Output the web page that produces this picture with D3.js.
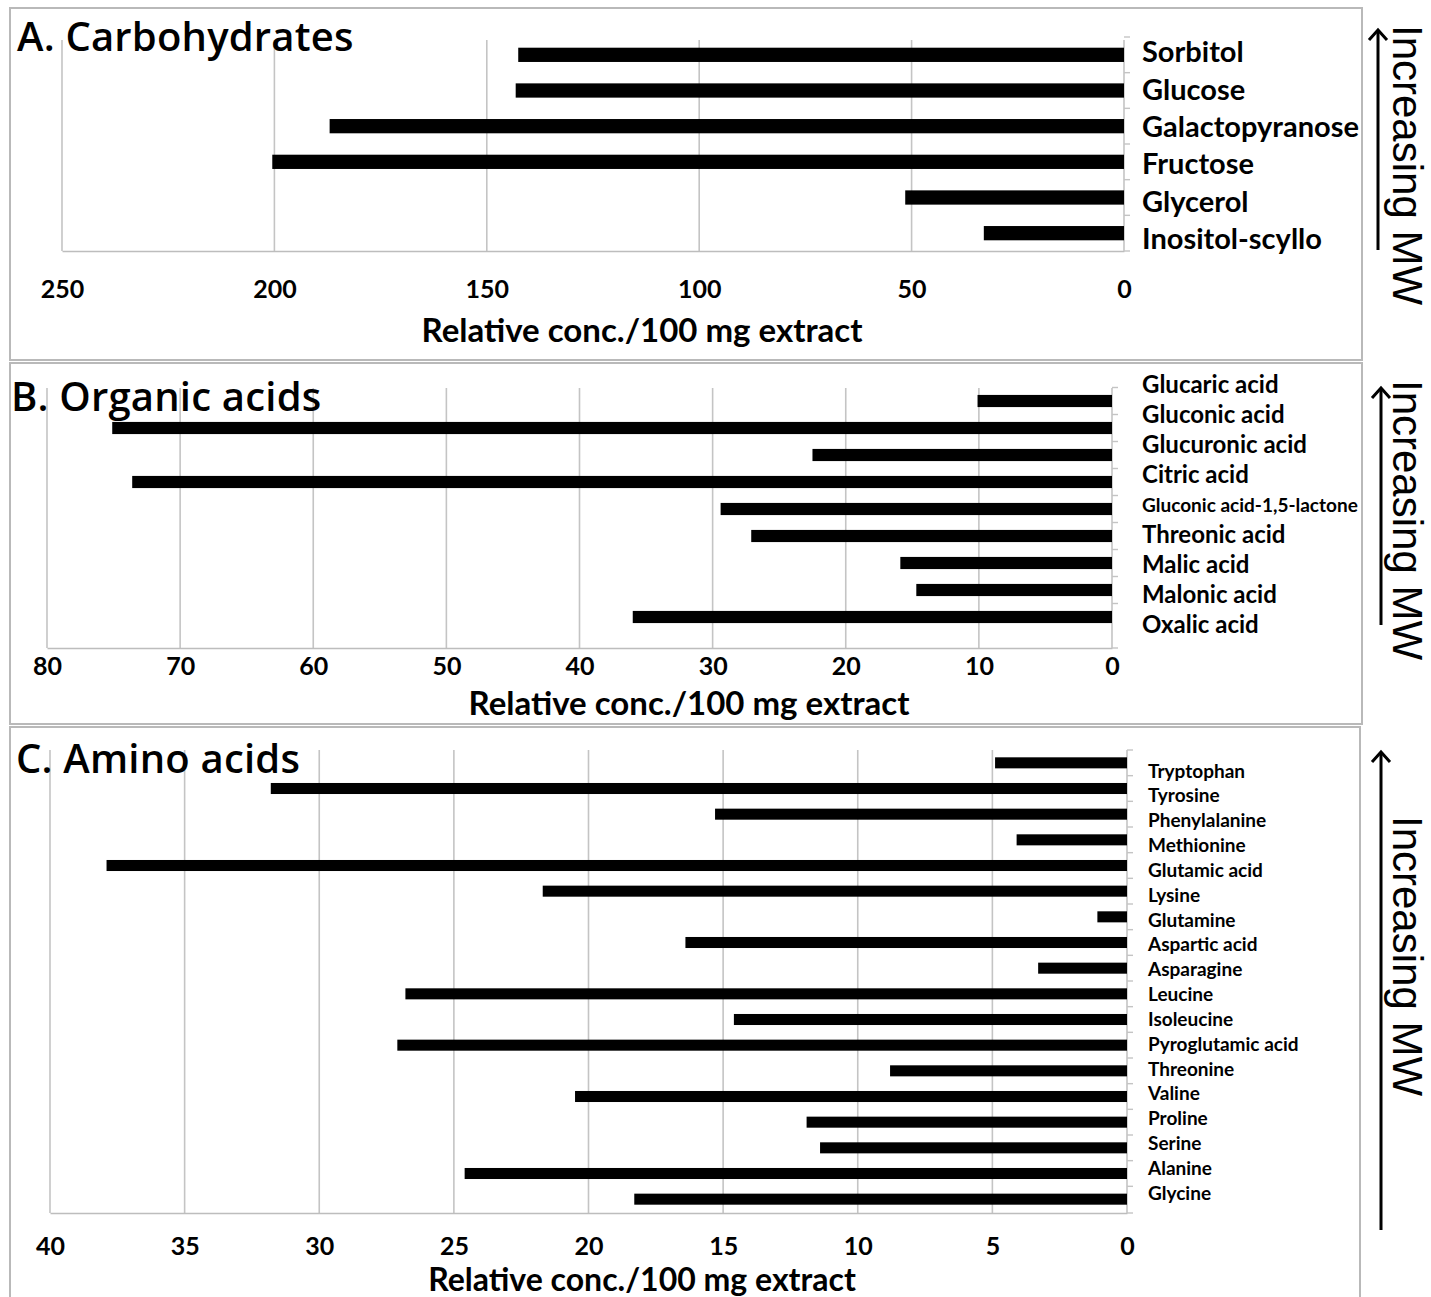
<!DOCTYPE html>
<html><head><meta charset="utf-8">
<script src="https://cdn.jsdelivr.net/npm/d3@7"></script>
<style>
body{margin:0;background:#fff}
svg{display:block}
text{font-family:Lato,"Open Sans",sans-serif;fill:#000}
</style>
</head><body>
<svg id="chart" width="1431" height="1297"></svg>
<script>
// ---------- DATA ----------
const carbCategories = ["Sorbitol","Glucose","Galactopyranose","Fructose","Glycerol","Inositol-scyllo"];
const carbValues = [142.6, 143.2, 187, 200.5, 51.5, 33];
const carbTicks = [250, 200, 150, 100, 50, 0];

const acidCategories = ["Glucaric acid","Gluconic acid","Glucuronic acid","Citric acid","Gluconic acid-1,5-lactone","Threonic acid","Malic acid","Malonic acid","Oxalic acid"];
const acidValues = [10.1, 75.1, 22.5, 73.6, 29.4, 27.1, 15.9, 14.7, 36.0];
const acidTicks = [80, 70, 60, 50, 40, 30, 20, 10, 0];

const aminoCategories = ["Tryptophan","Tyrosine","Phenylalanine","Methionine","Glutamic acid","Lysine","Glutamine","Aspartic acid","Asparagine","Leucine","Isoleucine","Pyroglutamic acid","Threonine","Valine","Proline","Serine","Alanine","Glycine"];
const aminoValues = [4.9, 31.8, 15.3, 4.1, 37.9, 21.7, 1.1, 16.4, 3.3, 26.8, 14.6, 27.1, 8.8, 20.5, 11.9, 11.4, 24.6, 18.3];
const aminoTicks = [40, 35, 30, 25, 20, 15, 10, 5, 0];

const panelTitles = ["A. Carbohydrates", "B. Organic acids", "C. Amino acids"];
const axisTitle = "Relative conc./100 mg extract";
const sideLabel = "Increasing MW";

// ---------- LAYOUT ----------
const layouts = [
  {box:[10,8,1352,352], titleX:17, titleY:51, xr:[62,1124], gridTop:40, axisY:251, band:[37,251], pad:0.6,
   labelR:[52,239], labelX:1142, labelSize:29, smallSize:19, tickY:289, axisTitleX:642, axisTitleY:330, axisTitleSize:33,
   sideY:165, arrowX:1378, arrow:[250,30]},
  {box:[10,363,1352,361], titleX:11, titleY:411, xr:[47,1112], gridTop:388, axisY:648, band:[387.5,630.5], pad:0.55,
   labelR:[385,625], labelX:1142, labelSize:24, smallSize:19, tickY:666, axisTitleX:689, axisTitleY:703, axisTitleSize:33,
   sideY:520, arrowX:1381, arrow:[625,388]},
  {box:[10,727,1350,600], titleX:16, titleY:773, xr:[50,1127], gridTop:750, axisY:1213, band:[750,1212], pad:0.57,
   labelR:[771,1193], labelX:1148, labelSize:19, smallSize:19, tickY:1246, axisTitleX:642, axisTitleY:1280, axisTitleSize:32,
   sideY:956, arrowX:1381, arrow:[1230,752]}
];

const panels = [
  {cats:carbCategories, vals:carbValues, ticks:carbTicks},
  {cats:acidCategories, vals:acidValues, ticks:acidTicks},
  {cats:aminoCategories, vals:aminoValues, ticks:aminoTicks}
];

const svg = d3.select("#chart");
svg.append("defs").append("marker")
  .attr("id","arr").attr("viewBox","0 0 24 24").attr("refX",14).attr("refY",12)
  .attr("markerWidth",24).attr("markerHeight",24).attr("markerUnits","userSpaceOnUse").attr("orient","auto")
  .append("path").attr("d","M4,3 L14,12 L4,21").attr("fill","none").attr("stroke","#000").attr("stroke-width",3);

panels.forEach((p, i) => {
  const L = layouts[i];
  const g = svg.append("g");
  g.append("rect").attr("x",L.box[0]).attr("y",L.box[1]).attr("width",L.box[2]).attr("height",L.box[3])
    .attr("fill","none").attr("stroke","#b9b9b9").attr("stroke-width",2);

  const x = d3.scaleLinear().domain([d3.max(p.ticks), 0]).range(L.xr);
  const y = d3.scaleBand().domain(p.cats).range(L.band).paddingInner(L.pad).paddingOuter(L.pad/2);
  const yl = d3.scalePoint().domain(p.cats).range(L.labelR);

  // grid lines
  g.selectAll(".grid").data(p.ticks.filter(t => t !== 0)).join("line")
    .attr("x1", d => x(d)).attr("x2", d => x(d))
    .attr("y1", L.gridTop).attr("y2", L.axisY)
    .attr("stroke","#c4c4c4").attr("stroke-width",1.6);

  // bottom axis with tick labels
  const ax = g.append("g").attr("transform",`translate(0,${L.axisY})`)
    .call(d3.axisBottom(x).tickValues(p.ticks).tickSize(0).tickPadding(L.tickY - L.axisY).tickFormat(d3.format("d")));
  ax.select(".domain").attr("stroke","#bdbdbd").attr("stroke-width",1.6);
  ax.selectAll("text").attr("font-size",25).attr("font-weight",700).attr("dy","0.35em")
    .attr("font-family","Lato, sans-serif");

  // right category axis line + small ticks
  const x0 = x(0);
  g.append("line").attr("x1",x0).attr("x2",x0).attr("y1",L.gridTop).attr("y2",L.axisY)
    .attr("stroke","#c4c4c4").attr("stroke-width",1.6);
  const edges = p.cats.map(c => y(c) - y.step()*y.paddingInner()/2).concat([L.axisY]);
  g.selectAll(".tk").data(edges).join("line")
    .attr("x1",x0).attr("x2",x0+6).attr("y1",d=>d).attr("y2",d=>d)
    .attr("stroke","#c4c4c4").attr("stroke-width",1.4);

  // bars
  g.selectAll(".bar").data(p.vals).join("rect")
    .attr("x", d => x(d)).attr("width", d => x(0) - x(d))
    .attr("y", (d, k) => y(p.cats[k])).attr("height", y.bandwidth())
    .attr("fill","#000");

  // category labels
  g.selectAll(".lab").data(p.cats).join("text")
    .attr("x", L.labelX).attr("y", d => yl(d)).attr("dy","0.35em")
    .attr("font-size", d => d.length > 20 ? L.smallSize : L.labelSize).attr("font-weight",700)
    .text(d => d);

  // panel title
  g.append("text").attr("x",L.titleX).attr("y",L.titleY).attr("font-size",40).attr("font-weight",600)
    .attr("letter-spacing","0.2px")
    .style("font-family","'Open Sans', sans-serif").text(panelTitles[i]);

  // axis title
  g.append("text").attr("x",L.axisTitleX).attr("y",L.axisTitleY).attr("dy","0.35em").attr("text-anchor","middle")
    .attr("font-size",L.axisTitleSize).attr("font-weight",700).text(axisTitle);

  // arrow
  g.append("line").attr("x1",L.arrowX).attr("x2",L.arrowX).attr("y1",L.arrow[0]).attr("y2",L.arrow[1])
    .attr("stroke","#000").attr("stroke-width",3).attr("marker-end","url(#arr)");

  // side label (rotated, reading top to bottom)
  g.append("text").attr("transform",`translate(1393,${L.sideY}) rotate(90)`)
    .attr("text-anchor","middle").attr("font-size",42)
    .style("font-family","'Liberation Sans', Arial, sans-serif").text(sideLabel);
});
</script>
</body></html>
